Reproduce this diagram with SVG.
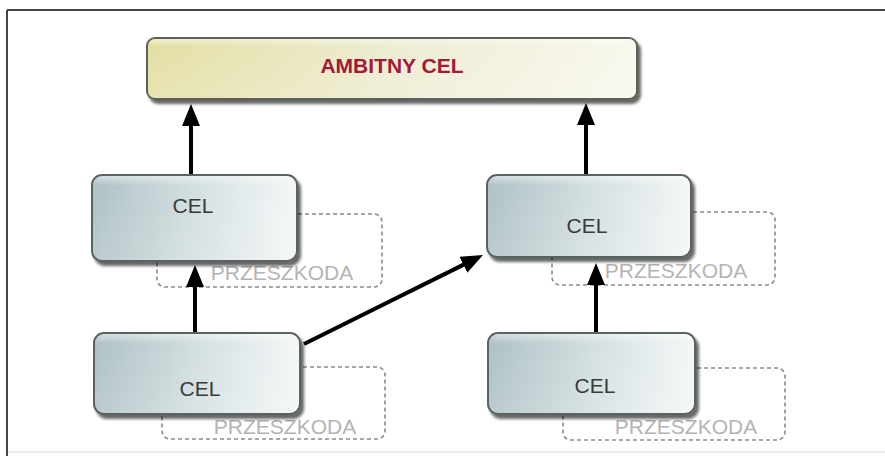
<svg xmlns="http://www.w3.org/2000/svg" width="885" height="456" viewBox="0 0 885 456">
<defs>
<linearGradient id="gCel" x1="0" y1="0" x2="1" y2="0">
<stop offset="0" stop-color="#aec1c5"/>
<stop offset="0.5" stop-color="#d3dfe0"/>
<stop offset="1" stop-color="#f4f7f7"/>
</linearGradient>
<linearGradient id="gShine" x1="0" y1="0" x2="0" y2="1">
<stop offset="0" stop-color="#ffffff" stop-opacity="0.45"/>
<stop offset="0.12" stop-color="#ffffff" stop-opacity="0"/>
<stop offset="1" stop-color="#ffffff" stop-opacity="0.15"/>
</linearGradient>
<linearGradient id="gAmb" x1="0" y1="0" x2="1" y2="0">
<stop offset="0" stop-color="#e4dfa4"/>
<stop offset="0.5" stop-color="#eeecd2"/>
<stop offset="1" stop-color="#f8f8ee"/>
</linearGradient>
<filter id="sh" x="-10%" y="-10%" width="130%" height="140%">
<feGaussianBlur in="SourceAlpha" stdDeviation="1.5"/>
<feOffset dx="3" dy="4" result="o"/>
<feComponentTransfer><feFuncA type="linear" slope="0.6"/></feComponentTransfer>
<feMerge><feMergeNode/><feMergeNode in="SourceGraphic"/></feMerge>
</filter>
<marker id="ah" viewBox="0 0 22 18" refX="6" refY="9" markerWidth="22" markerHeight="18" markerUnits="userSpaceOnUse" orient="auto">
<path d="M0,0 L22,9 L0,18 z" fill="#000"/>
</marker>
</defs>
<style>
.cel{fill:url(#gCel);stroke:#5a6464;stroke-width:2;filter:url(#sh)}
.shine{fill:url(#gShine);stroke:none}
.amb{fill:url(#gAmb);stroke:#5e605a;stroke-width:2;filter:url(#sh)}
.obs{fill:none;stroke:#8a8a8a;stroke-width:1.6;stroke-dasharray:4 3}
.ct{font-family:"Liberation Sans",Arial,sans-serif;font-size:21px;fill:#3a3a3a;text-anchor:middle}
.ot{font-family:"Liberation Sans",Arial,sans-serif;font-size:21px;fill:#b4b4b4;text-anchor:middle}
.at{font-family:"Liberation Sans",Arial,sans-serif;font-size:21px;font-weight:bold;fill:#a01c38;text-anchor:middle}
.con{stroke:#000;stroke-width:4;fill:none;marker-end:url(#ah)}
</style>
<rect x="0" y="0" width="885" height="456" fill="#fff"/>
<g id="frame">
<line x1="7" y1="10" x2="885" y2="10" stroke="#444" stroke-width="2"/>
<line x1="7" y1="10" x2="7" y2="456" stroke="#444" stroke-width="2"/>
<line x1="8" y1="452" x2="885" y2="452" stroke="#e4e4e4" stroke-width="1.5"/>
</g>
<g id="obstacle-1">
<rect class="obs" x="157" y="214" width="225" height="73" rx="8"/>
<text class="ot" x="282" y="280">PRZESZKODA</text>
</g>
<g id="obstacle-2">
<rect class="obs" x="552" y="212" width="223" height="73" rx="8"/>
<text class="ot" x="676" y="278">PRZESZKODA</text>
</g>
<g id="obstacle-3">
<rect class="obs" x="162" y="367" width="223" height="72" rx="8"/>
<text class="ot" x="285" y="434">PRZESZKODA</text>
</g>
<g id="obstacle-4">
<rect class="obs" x="563" y="368" width="222" height="72" rx="8"/>
<text class="ot" x="686" y="434">PRZESZKODA</text>
</g>
<g id="connectors">
<line class="con" x1="191" y1="175" x2="191" y2="120"/>
<line class="con" x1="586" y1="174" x2="586" y2="119"/>
<line class="con" x1="195" y1="333" x2="195" y2="281"/>
<line class="con" x1="596" y1="333" x2="596" y2="279"/>
<line class="con" x1="304" y1="344" x2="468.7" y2="262.1"/>
</g>
<g id="ambitny-cel">
<rect class="amb" x="147" y="38" width="490" height="61" rx="8"/>
<rect class="shine" x="148" y="39" width="488" height="59" rx="7"/>
<text class="at" x="392" y="73">AMBITNY CEL</text>
</g>
<g id="cel-1">
<rect class="cel" x="92" y="175" width="205" height="86" rx="10"/>
<rect class="shine" x="93" y="176" width="203" height="84" rx="9"/>
<text class="ct" x="193" y="213">CEL</text>
</g>
<g id="cel-2">
<rect class="cel" x="487" y="175" width="204" height="82" rx="10"/>
<rect class="shine" x="488" y="176" width="202" height="80" rx="9"/>
<text class="ct" x="587" y="233">CEL</text>
</g>
<g id="cel-3">
<rect class="cel" x="94" y="333" width="206" height="81" rx="10"/>
<rect class="shine" x="95" y="334" width="204" height="79" rx="9"/>
<text class="ct" x="200" y="396">CEL</text>
</g>
<g id="cel-4">
<rect class="cel" x="488" y="333" width="207" height="81" rx="10"/>
<rect class="shine" x="489" y="334" width="205" height="79" rx="9"/>
<text class="ct" x="595" y="393">CEL</text>
</g>
</svg>
